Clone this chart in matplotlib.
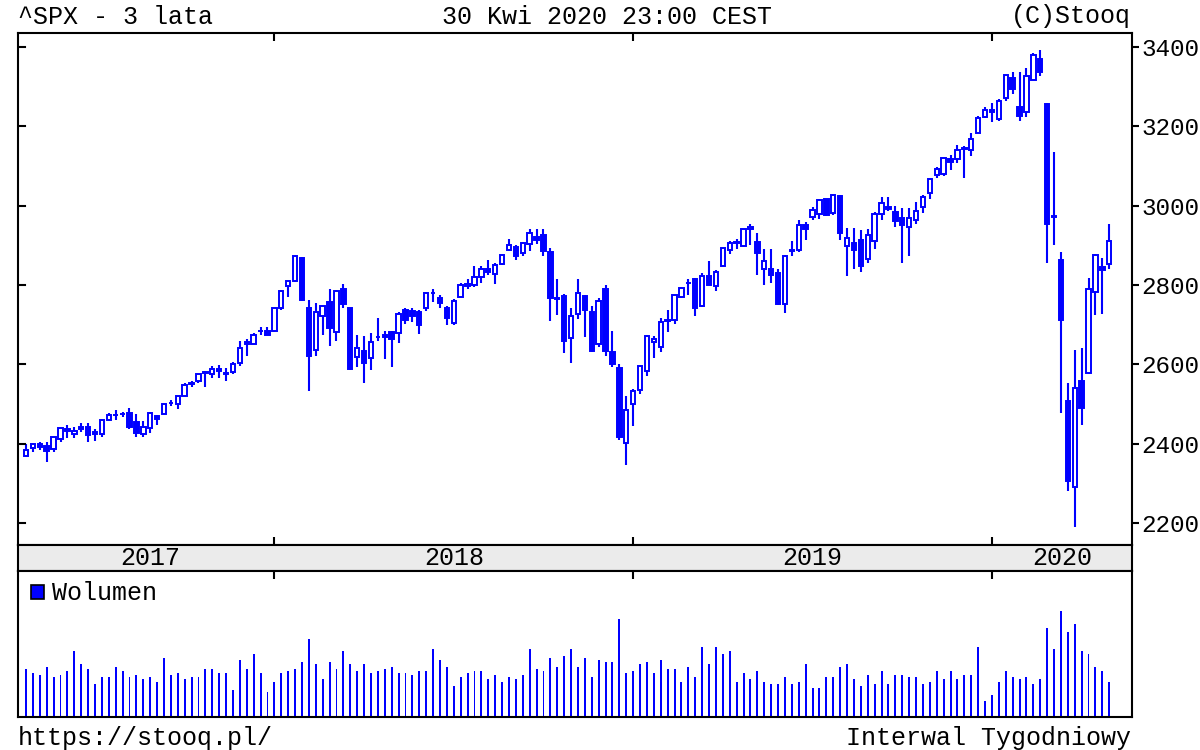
import numpy as np
import pandas as pd
import matplotlib
matplotlib.use("Agg")
import matplotlib.pyplot as plt
from matplotlib.patches import Rectangle
from matplotlib.transforms import blended_transform_factory

plt.rcParams['font.family'] = ['Liberation Mono', 'DejaVu Sans Mono']

# weekly candles ^SPX, weeks from 24 Apr 2017 to 27 Apr 2020
opens = [2370, 2388, 2399, 2393, 2387, 2411, 2437, 2425, 2442, 2443,
         2430, 2424, 2459, 2472, 2475, 2478, 2454, 2425, 2440, 2470,
         2474, 2502, 2500, 2521, 2551, 2557, 2578, 2575, 2588, 2576,
         2580, 2603, 2657, 2652, 2685, 2683, 2684, 2743, 2798, 2810,
         2867, 2741, 2636, 2722, 2757, 2681, 2790, 2741, 2619, 2633,
         2617, 2670, 2675, 2682, 2680, 2738, 2735, 2733, 2742, 2780,
         2766, 2742, 2704, 2769, 2798, 2799, 2819, 2840, 2828, 2853,
         2887, 2897, 2881, 2903, 2922, 2927, 2882, 2764, 2773, 2667,
         2727, 2773, 2731, 2650, 2790, 2630, 2591, 2401, 2499, 2535,
         2582, 2657, 2644, 2713, 2713, 2770, 2804, 2814, 2747, 2823,
         2797, 2848, 2888, 2908, 2898, 2940, 2908, 2841, 2841, 2830,
         2752, 2886, 2889, 2951, 2971, 2980, 3017, 2981, 3024, 2898,
         2907, 2913, 2866, 2910, 2980, 2996, 2984, 2968, 2945, 2965,
         2996, 3032, 3078, 3081, 3118, 3118, 3144, 3141, 3183, 3223,
         3240, 3218, 3271, 3321, 3248, 3236, 3318, 3370, 3257, 2974,
         2863, 2508, 2291, 2558, 2578, 2782, 2845, 2854]

highs = [2398, 2399, 2403, 2405, 2418, 2440, 2447, 2441, 2453, 2451,
         2436, 2463, 2477, 2484, 2480, 2491, 2475, 2456, 2480, 2472,
         2500, 2509, 2520, 2552, 2557, 2575, 2582, 2597, 2598, 2591,
         2605, 2658, 2665, 2680, 2695, 2693, 2743, 2787, 2808, 2873,
         2870, 2763, 2754, 2748, 2789, 2787, 2802, 2742, 2674, 2672,
         2680, 2718, 2683, 2683, 2732, 2742, 2742, 2738, 2779, 2791,
         2775, 2747, 2764, 2804, 2816, 2848, 2848, 2863, 2855, 2876,
         2916, 2900, 2908, 2941, 2940, 2940, 2894, 2816, 2778, 2741,
         2815, 2775, 2747, 2767, 2800, 2685, 2601, 2520, 2539, 2597,
         2675, 2672, 2716, 2738, 2775, 2794, 2814, 2817, 2831, 2860,
         2837, 2893, 2910, 2917, 2940, 2954, 2932, 2892, 2892, 2841,
         2876, 2911, 2964, 2959, 2996, 3017, 3017, 3028, 3027, 2944,
         2944, 2939, 2940, 2985, 3021, 3022, 3000, 2993, 2993, 3008,
         3027, 3067, 3097, 3121, 3128, 3154, 3150, 3183, 3226, 3248,
         3259, 3268, 3330, 3338, 3337, 3347, 3385, 3393, 3259, 3136,
         2882, 2553, 2637, 2641, 2818, 2879, 2868, 2954]

lows = [2368, 2378, 2385, 2353, 2380, 2403, 2415, 2415, 2430, 2405,
        2407, 2416, 2456, 2459, 2466, 2437, 2417, 2417, 2428, 2446,
        2474, 2496, 2488, 2521, 2543, 2553, 2544, 2566, 2566, 2557,
        2576, 2596, 2621, 2650, 2673, 2673, 2682, 2737, 2769, 2808,
        2759, 2533, 2622, 2675, 2647, 2659, 2741, 2585, 2594, 2553,
        2586, 2660, 2613, 2594, 2655, 2701, 2707, 2676, 2735, 2758,
        2743, 2699, 2699, 2770, 2790, 2795, 2804, 2825, 2802, 2851,
        2885, 2864, 2874, 2886, 2903, 2874, 2710, 2724, 2628, 2604,
        2714, 2670, 2631, 2644, 2621, 2593, 2409, 2347, 2444, 2525,
        2570, 2617, 2631, 2681, 2702, 2768, 2775, 2722, 2745, 2800,
        2785, 2848, 2879, 2891, 2898, 2900, 2825, 2801, 2805, 2750,
        2729, 2873, 2884, 2913, 2964, 2966, 2975, 2976, 2914, 2822,
        2840, 2834, 2856, 2891, 2964, 2986, 2945, 2856, 2874, 2953,
        2981, 3017, 3069, 3076, 3091, 3108, 3070, 3124, 3183, 3222,
        3212, 3214, 3264, 3281, 3214, 3224, 3316, 3328, 2855, 2902,
        2478, 2280, 2191, 2447, 2575, 2725, 2727, 2841]

closes = [2384, 2399, 2391, 2382, 2416, 2439, 2432, 2433, 2438, 2423,
          2425, 2459, 2472, 2472, 2476, 2441, 2426, 2443, 2477, 2461,
          2500, 2502, 2519, 2549, 2553, 2575, 2581, 2588, 2582, 2579,
          2602, 2642, 2652, 2675, 2683, 2674, 2743, 2786, 2810, 2873,
          2762, 2620, 2732, 2747, 2691, 2786, 2752, 2588, 2641, 2604,
          2656, 2670, 2670, 2663, 2728, 2713, 2721, 2700, 2779, 2780,
          2755, 2718, 2760, 2801, 2802, 2819, 2840, 2833, 2850, 2875,
          2902, 2872, 2905, 2930, 2914, 2886, 2767, 2768, 2659, 2723,
          2781, 2736, 2633, 2760, 2633, 2600, 2417, 2486, 2532, 2596,
          2671, 2665, 2707, 2708, 2776, 2793, 2804, 2743, 2822, 2801,
          2834, 2893, 2907, 2905, 2940, 2946, 2881, 2860, 2826, 2752,
          2873, 2887, 2950, 2942, 2990, 3014, 2977, 3026, 2932, 2919,
          2889, 2847, 2926, 2979, 3007, 2992, 2962, 2952, 2970, 2986,
          3023, 3067, 3093, 3120, 3110, 3141, 3146, 3169, 3221, 3240,
          3235, 3265, 3330, 3295, 3226, 3328, 3380, 3338, 2954, 2972,
          2711, 2305, 2541, 2489, 2790, 2875, 2837, 2912]

# weekly volume (relative units)
wolumen = [142, 129, 122, 148, 116, 122, 135, 194, 155, 142,
           97, 116, 116, 148, 135, 116, 122, 110, 116, 103,
           174, 122, 129, 110, 116, 116, 142, 142, 129, 129,
           77, 167, 142, 187, 129, 71, 103, 129, 135, 142,
           161, 232, 155, 110, 161, 142, 194, 155, 135, 155,
           129, 135, 142, 148, 129, 129, 122, 135, 135, 200,
           167, 148, 90, 116, 129, 135, 135, 110, 122, 103,
           116, 110, 122, 200, 142, 135, 174, 148, 180, 200,
           148, 174, 116, 167, 161, 161, 290, 129, 135, 155,
           161, 129, 167, 142, 142, 103, 148, 116, 206, 155,
           206, 187, 194, 103, 129, 110, 135, 103, 97, 97,
           116, 97, 103, 155, 84, 84, 116, 116, 148, 155,
           110, 90, 122, 97, 135, 97, 122, 122, 116, 116,
           97, 103, 135, 110, 135, 110, 122, 122, 206, 45,
           64, 103, 135, 116, 110, 116, 97, 110, 264, 200,
           315, 251, 277, 194, 187, 148, 135, 103]

yticks = [2200, 2400, 2600, 2800, 3000, 3200, 3400]

week_end = pd.date_range("2017-04-28", periods=len(closes), freq="W-FRI")
x = np.arange(len(closes))
o = np.array(opens)
h = np.array(highs)
l = np.array(lows)
c = np.array(closes)

BLUE = '#0000ff'
W, H = 1200, 750
FS = 18
xlim = (-1.16, 160.3)

fig = plt.figure(figsize=(12, 7.5), dpi=100)
ax = fig.add_axes([18 / W, 1 - 545 / H, 1114 / W, 512 / H])
band = fig.add_axes([18 / W, 1 - 571 / H, 1114 / W, 26 / H])
axv = fig.add_axes([18 / W, 1 - 717 / H, 1114 / W, 146 / H])

# candles
ax.vlines(x, l, h, color=BLUE, linewidth=1.5, zorder=2)
up = c >= o
ax.bar(x, np.abs(c - o), bottom=np.minimum(o, c), width=0.64,
       color=np.where(up, 'white', BLUE), edgecolor=BLUE, linewidth=1.4, zorder=3)

ax.set_xlim(*xlim)
ax.set_ylim(2144.5, 3435.3)

# year boundaries
years = week_end.year
bounds = [i for i in range(1, len(x)) if years[i] != years[i - 1]]

ax.set_xticks(bounds)
ax.tick_params(axis='x', direction='in', top=True, bottom=True, length=6,
               width=1.5, labelbottom=False)
ax.yaxis.tick_right()
ax.set_yticks(yticks)
ax.tick_params(axis='y', direction='out', length=5, width=1.5, pad=2, labelsize=17.5)
for yv in yticks:
    ax.axhline(yv, 0, 7 / 1114, color='black', linewidth=1.5)

# date band
band.set_facecolor('#ebebeb')
band.set_xlim(*xlim)
band.set_ylim(0, 1)
band.set_xticks([])
band.set_yticks([])
edges = [x[0]] + bounds + [xlim[1]]
yrs = sorted(set(years))
trans = blended_transform_factory(band.transData, band.transAxes)
for k, yr in enumerate(yrs):
    mid = (edges[k] + edges[k + 1]) / 2
    band.text(mid, 0.23, str(yr), transform=trans, ha='center', va='baseline', fontsize=FS)

# volume
axv.bar(x, wolumen, width=0.28, color=BLUE, linewidth=0)
axv.set_xlim(*xlim)
axv.set_ylim(-3, 435)
axv.set_yticks([])
axv.set_xticks(bounds)
axv.tick_params(axis='x', direction='in', top=True, bottom=False, length=6,
                width=1.5, labelbottom=False)

for a in (ax, band, axv):
    for s in a.spines.values():
        s.set_linewidth(1.5)
        s.set_color('black')

fig.add_artist(Rectangle((31 / W, 1 - 599 / H), 13 / W, 14 / H, transform=fig.transFigure,
                         facecolor=BLUE, edgecolor='black', linewidth=1.2))
fig.text(52 / W, 1 - 600 / H, "Wolumen", fontsize=FS, va='baseline')

fig.text(18 / W, 1 - 23.5 / H, "^SPX - 3 lata", fontsize=FS, va='baseline')
fig.text(607 / W, 1 - 23.5 / H, "30 Kwi 2020 23:00 CEST", fontsize=FS, ha='center', va='baseline')
fig.text(1131 / W, 1 - 23.5 / H, "(C)Stooq", fontsize=FS, ha='right', va='baseline')
fig.text(18 / W, 1 - 745 / H, "https://stooq.pl/", fontsize=FS, va='baseline')
fig.text(1131 / W, 1 - 745 / H, "Interwal Tygodniowy", fontsize=FS, ha='right', va='baseline')

fig.savefig("out.png", dpi=100)
